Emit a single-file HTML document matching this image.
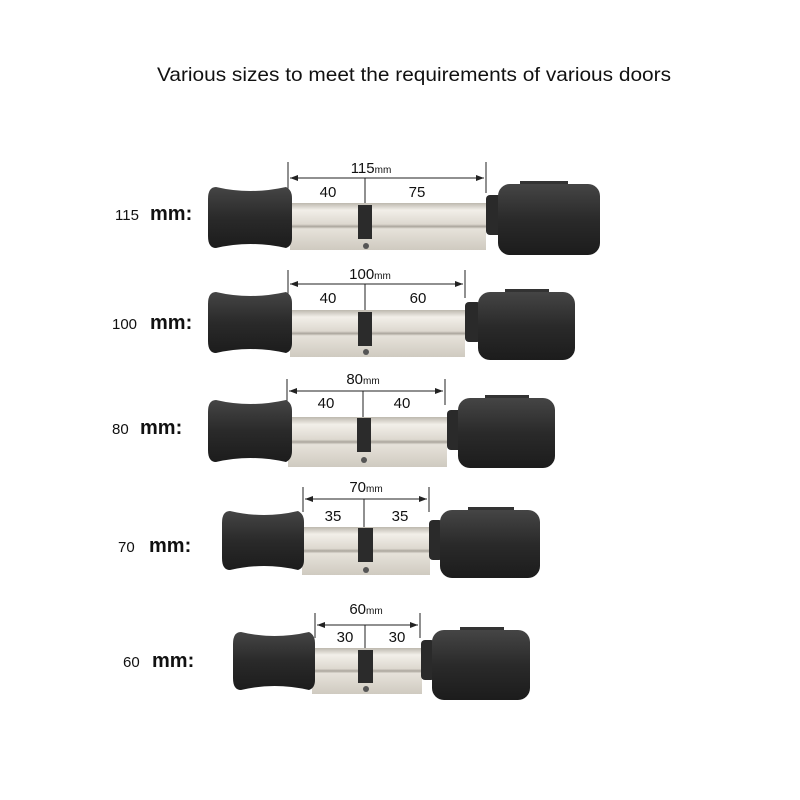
<!DOCTYPE html>
<html><head><meta charset="utf-8"><style>
html,body{margin:0;padding:0;background:#fff;}
svg{display:block;}
text{font-family:"Liberation Sans","DejaVu Sans",sans-serif;fill:#111;}
</style></head><body>
<svg width="800" height="800" viewBox="0 0 800 800" xmlns="http://www.w3.org/2000/svg">
<defs>
<linearGradient id="sv" x1="0" y1="0" x2="0" y2="1">
<stop offset="0" stop-color="#bdb8ae"/><stop offset="0.15" stop-color="#f2efe9"/><stop offset="0.45" stop-color="#ddd8cf"/><stop offset="0.5" stop-color="#aaa59c"/><stop offset="0.55" stop-color="#e6e2da"/><stop offset="1" stop-color="#cfcac0"/>
</linearGradient>
<linearGradient id="kn" x1="0" y1="0" x2="0" y2="1">
<stop offset="0" stop-color="#454545"/><stop offset="0.5" stop-color="#2a2a2a"/><stop offset="1" stop-color="#1c1c1c"/>
</linearGradient>
<marker id="ar" markerWidth="8" markerHeight="6" refX="8" refY="3" orient="auto-start-reverse"><path d="M0,0 L8,3 L0,6 Z" fill="#222"/></marker>
</defs>
<text x="414" y="81" font-size="19.5" text-anchor="middle" textLength="514" lengthAdjust="spacingAndGlyphs">Various sizes to meet the requirements of various doors</text>

<!-- Row 1: 115 -->
<g>
<text x="115" y="220" font-size="15">115</text><text x="150" y="220" font-size="20" font-weight="bold">mm:</text>
<line x1="288" y1="162" x2="288" y2="193" stroke="#222"/><line x1="486" y1="162" x2="486" y2="193" stroke="#222"/>
<line x1="290" y1="178" x2="484" y2="178" stroke="#222" marker-start="url(#ar)" marker-end="url(#ar)"/>
<line x1="365" y1="178" x2="365" y2="205" stroke="#222"/>
<text x="371" y="173" font-size="15" text-anchor="middle">115<tspan font-size="10">mm</tspan></text>
<text x="328" y="197" font-size="15" text-anchor="middle">40</text><text x="417" y="197" font-size="15" text-anchor="middle">75</text>
<rect x="290" y="203" width="196" height="47" fill="url(#sv)"/>
<rect x="358" y="205" width="14" height="34" fill="#2b2b2b"/>
<circle cx="366" cy="246" r="3" fill="#555"/>
<path d="M216 187 Q250 195 286 187 Q292 190 292 198 L292 238 Q292 246 286 248 Q250 240 216 248 Q208 248 208 236 L208 199 Q208 187 216 187 Z" fill="url(#kn)"/>
<rect x="486" y="195" width="16" height="40" rx="4" fill="#2a2a2a"/>
<rect x="498" y="184" width="102" height="71" rx="12" fill="url(#kn)"/>
<path d="M520 184 h48 v-3 h-48 Z" fill="#333"/>
</g>

<!-- Row 2: 100 -->
<g>
<text x="112" y="329" font-size="15">100</text><text x="150" y="329" font-size="20" font-weight="bold">mm:</text>
<line x1="288" y1="270" x2="288" y2="298" stroke="#222"/><line x1="465" y1="270" x2="465" y2="298" stroke="#222"/>
<line x1="290" y1="284" x2="463" y2="284" stroke="#222" marker-start="url(#ar)" marker-end="url(#ar)"/>
<line x1="365" y1="284" x2="365" y2="312" stroke="#222"/>
<text x="370" y="279" font-size="15" text-anchor="middle">100<tspan font-size="10">mm</tspan></text>
<text x="328" y="303" font-size="15" text-anchor="middle">40</text><text x="418" y="303" font-size="15" text-anchor="middle">60</text>
<rect x="290" y="310" width="175" height="47" fill="url(#sv)"/>
<rect x="358" y="312" width="14" height="34" fill="#2b2b2b"/>
<circle cx="366" cy="352" r="3" fill="#555"/>
<path d="M216 292 Q250 300 286 292 Q292 295 292 303 L292 343 Q292 351 286 353 Q250 345 216 353 Q208 353 208 341 L208 304 Q208 292 216 292 Z" fill="url(#kn)"/>
<rect x="465" y="302" width="16" height="40" rx="4" fill="#2a2a2a"/>
<rect x="478" y="292" width="97" height="68" rx="12" fill="url(#kn)"/>
<path d="M505 292 h44 v-3 h-44 Z" fill="#333"/>
</g>

<!-- Row 3: 80 -->
<g>
<text x="112" y="434" font-size="15">80</text><text x="140" y="434" font-size="20" font-weight="bold">mm:</text>
<line x1="287" y1="379" x2="287" y2="405" stroke="#222"/><line x1="445" y1="379" x2="445" y2="405" stroke="#222"/>
<line x1="289" y1="391" x2="443" y2="391" stroke="#222" marker-start="url(#ar)" marker-end="url(#ar)"/>
<line x1="363" y1="391" x2="363" y2="418" stroke="#222"/>
<text x="363" y="384" font-size="15" text-anchor="middle">80<tspan font-size="10">mm</tspan></text>
<text x="326" y="408" font-size="15" text-anchor="middle">40</text><text x="402" y="408" font-size="15" text-anchor="middle">40</text>
<rect x="288" y="417" width="159" height="50" fill="url(#sv)"/>
<rect x="357" y="418" width="14" height="34" fill="#2b2b2b"/>
<circle cx="364" cy="460" r="3" fill="#555"/>
<path d="M216 400 Q250 408 286 400 Q292 403 292 411 L292 451 Q292 459 286 462 Q250 454 216 462 Q208 462 208 450 L208 412 Q208 400 216 400 Z" fill="url(#kn)"/>
<rect x="447" y="410" width="16" height="40" rx="4" fill="#2a2a2a"/>
<rect x="458" y="398" width="97" height="70" rx="12" fill="url(#kn)"/>
<path d="M485 398 h44 v-3 h-44 Z" fill="#333"/>
</g>

<!-- Row 4: 70 -->
<g>
<text x="118" y="552" font-size="15">70</text><text x="149" y="552" font-size="20" font-weight="bold">mm:</text>
<line x1="303" y1="487" x2="303" y2="512" stroke="#222"/><line x1="429" y1="487" x2="429" y2="512" stroke="#222"/>
<line x1="305" y1="499" x2="427" y2="499" stroke="#222" marker-start="url(#ar)" marker-end="url(#ar)"/>
<line x1="364" y1="499" x2="364" y2="528" stroke="#222"/>
<text x="366" y="492" font-size="15" text-anchor="middle">70<tspan font-size="10">mm</tspan></text>
<text x="333" y="521" font-size="15" text-anchor="middle">35</text><text x="400" y="521" font-size="15" text-anchor="middle">35</text>
<rect x="302" y="527" width="128" height="48" fill="url(#sv)"/>
<rect x="358" y="528" width="15" height="34" fill="#2b2b2b"/>
<circle cx="366" cy="570" r="3" fill="#555"/>
<path d="M230 511 Q264 519 298 511 Q304 514 304 522 L304 560 Q304 568 298 570 Q264 562 230 570 Q222 570 222 558 L222 523 Q222 511 230 511 Z" fill="url(#kn)"/>
<rect x="429" y="520" width="14" height="40" rx="4" fill="#2a2a2a"/>
<rect x="440" y="510" width="100" height="68" rx="12" fill="url(#kn)"/>
<path d="M468 510 h46 v-3 h-46 Z" fill="#333"/>
</g>

<!-- Row 5: 60 -->
<g>
<text x="123" y="667" font-size="15">60</text><text x="152" y="667" font-size="20" font-weight="bold">mm:</text>
<line x1="315" y1="613" x2="315" y2="638" stroke="#222"/><line x1="420" y1="613" x2="420" y2="638" stroke="#222"/>
<line x1="317" y1="625" x2="418" y2="625" stroke="#222" marker-start="url(#ar)" marker-end="url(#ar)"/>
<line x1="365" y1="625" x2="365" y2="650" stroke="#222"/>
<text x="366" y="614" font-size="15" text-anchor="middle">60<tspan font-size="10">mm</tspan></text>
<text x="345" y="642" font-size="15" text-anchor="middle">30</text><text x="397" y="642" font-size="15" text-anchor="middle">30</text>
<rect x="312" y="648" width="110" height="46" fill="url(#sv)"/>
<rect x="358" y="650" width="15" height="33" fill="#2b2b2b"/>
<circle cx="366" cy="689" r="3" fill="#555"/>
<path d="M241 632 Q274 640 309 632 Q315 635 315 643 L315 680 Q315 688 309 690 Q274 682 241 690 Q233 690 233 678 L233 644 Q233 632 241 632 Z" fill="url(#kn)"/>
<rect x="421" y="640" width="14" height="40" rx="4" fill="#2a2a2a"/>
<rect x="432" y="630" width="98" height="70" rx="12" fill="url(#kn)"/>
<path d="M460 630 h44 v-3 h-44 Z" fill="#333"/>
</g>
</svg>
</body></html>
